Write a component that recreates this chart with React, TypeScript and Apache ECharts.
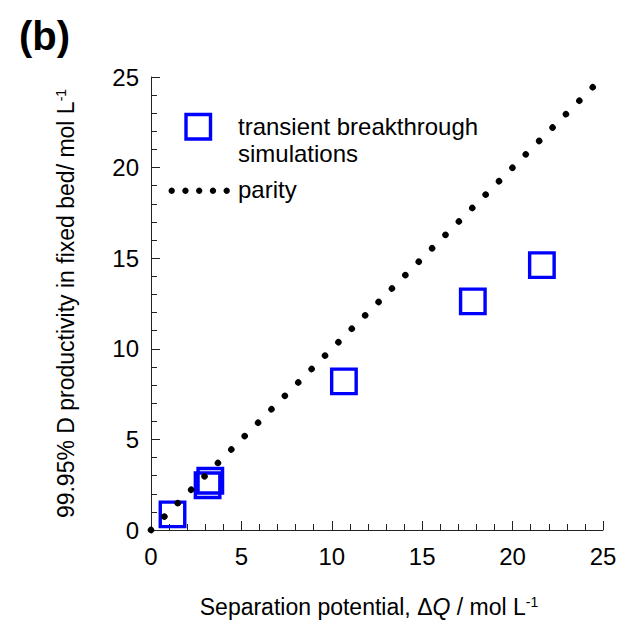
import React, { useEffect, useRef } from "react";
import * as echarts from "echarts";

// Breakthrough simulation results: separation potential vs 99.95% D productivity
const separationPotential = [1.19, 3.13, 3.28, 10.67, 17.8, 21.62];
const productivity = [0.86, 2.47, 2.72, 8.2, 12.62, 14.62];

// Parity line end points
const parityX = [0, 24.5];
const parityY = [0, 24.5];

// Axis range and tick step
const axisMin = 0;
const axisMax = 25;
const axisStep = 5;

const FONT = "Liberation Sans, Arial, sans-serif";
const BLUE = "#0000ff";

export default function App() {
  const ref = useRef<HTMLDivElement>(null);

  useEffect(() => {
    if (!ref.current) return;
    const chart = echarts.init(ref.current, undefined, { renderer: "svg" });

    const simPoints = separationPotential.map((x, i) => [x, productivity[i]]);
    const parityPoints = parityX.map((x, i) => [x, parityY[i]]);

    const axisCommon = {
      type: "value" as const,
      min: axisMin,
      max: axisMax,
      interval: axisStep,
      splitLine: { show: false },
      axisLine: { show: true, lineStyle: { color: "#222", width: 1 } },
      axisTick: { show: true, inside: true, length: 9, lineStyle: { color: "#222", width: 1 } },
      minorTick: { show: true, splitNumber: 5, length: 6, lineStyle: { color: "#222", width: 1 } },
      minorSplitLine: { show: false },
    };

    const rich = {
      a: { fontFamily: FONT, fontSize: 23, color: "#000" },
      i: { fontFamily: FONT, fontSize: 23, color: "#000", fontStyle: "italic" },
      s: { fontFamily: FONT, fontSize: 14, color: "#000", verticalAlign: "top" },
    };

    chart.setOption({
      animation: false,
      backgroundColor: "#fff",
      grid: { left: 151, top: 77, width: 452, height: 453, containLabel: false },
      xAxis: {
        ...axisCommon,
        axisLabel: { fontFamily: FONT, fontSize: 24, color: "#000", margin: 14 },
        name: "{a|Separation potential, Δ}{i|Q}{a| / mol L}{s|-1}",
        nameLocation: "middle",
        nameGap: 65,
        nameTextStyle: { rich, padding: [0, 16, 0, 0] },
      },
      yAxis: {
        ...axisCommon,
        axisLabel: { fontFamily: FONT, fontSize: 24, color: "#000", margin: 12 },
        name: "{a|99.95% D productivity in fixed bed/ mol L}{s|-1}",
        nameLocation: "middle",
        nameGap: 74,
        nameTextStyle: { rich },
      },
      series: [
        {
          name: "transient breakthrough simulations",
          type: "scatter",
          data: simPoints,
          symbol: "rect",
          symbolSize: 24.5,
          itemStyle: { color: "rgba(0,0,0,0)", borderColor: BLUE, borderWidth: 3.4, opacity: 1 },
          z: 2,
        },
        {
          name: "parity",
          type: "line",
          data: parityPoints,
          showSymbol: false,
          symbol: "none",
          clip: false,
          lineStyle: { color: "#000", width: 6.5, type: [0.001, 18.95], cap: "round" },
          z: 3,
        },
      ],
      graphic: [
        {
          type: "text",
          left: 19,
          top: 16,
          style: { text: "(b)", fontFamily: FONT, fontSize: 40, fontWeight: "bold", fill: "#000" },
        },
        {
          type: "rect",
          shape: { x: 186, y: 114.5, width: 24.5, height: 24.5 },
          style: { fill: "none", stroke: BLUE, lineWidth: 3.4 },
        },
        {
          type: "text",
          x: 238,
          y: 126,
          style: {
            text: "transient breakthrough",
            fontFamily: FONT,
            fontSize: 24,
            fill: "#000",
            verticalAlign: "middle",
          },
        },
        {
          type: "text",
          x: 238,
          y: 153,
          style: { text: "simulations", fontFamily: FONT, fontSize: 24, fill: "#000", verticalAlign: "middle" },
        },
        ...[0, 1, 2, 3, 4].map((k) => ({
          type: "circle",
          shape: { cx: 171.7 + k * 13.75, cy: 190.7, r: 3.2 },
          style: { fill: "#000" },
        })),
        {
          type: "text",
          x: 238,
          y: 189,
          style: { text: "parity", fontFamily: FONT, fontSize: 24, fill: "#000", verticalAlign: "middle" },
        },
      ],
    });

    return () => chart.dispose();
  }, []);

  return (
    <div
      ref={ref}
      style={{ position: "fixed", left: 0, top: 0, width: 621, height: 625, background: "#fff" }}
    />
  );
}
